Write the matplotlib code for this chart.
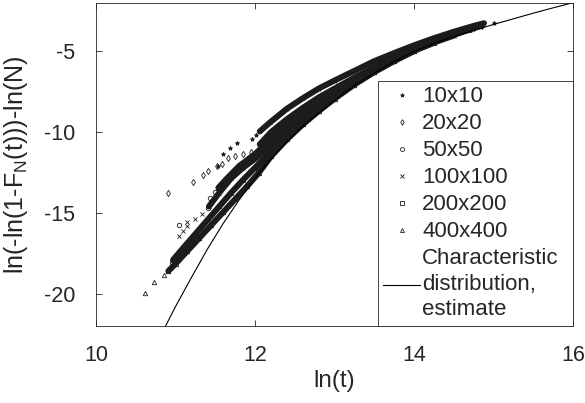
import matplotlib
matplotlib.use('Agg')
import matplotlib.pyplot as plt

plt.rcParams['font.family'] = ['Liberation Sans', 'DejaVu Sans']
plt.rcParams['mathtext.default'] = 'regular'
plt.rcParams['axes.unicode_minus'] = False

# characteristic distribution estimate
char_x = [10.87, 11.0, 11.2, 11.4, 11.6, 11.8, 12.0, 12.2, 12.4, 12.6, 12.8, 13.0,
          13.25, 13.5, 13.75, 14.0, 14.25, 14.5, 14.75, 15.0, 15.25, 15.5, 15.75, 16.0]
char_y = [-22.05, -20.8, -19.0, -17.25, -15.65, -14.2, -12.85, -11.65, -10.6, -9.65, -8.8, -8.02,
          -7.12, -6.33, -5.63, -5.0, -4.5, -4.08, -3.7, -3.33, -2.98, -2.63, -2.3, -1.98]

# 10x10: sparse points + dense part
s10_tail_x = [11.53, 11.60, 11.69, 11.77, 11.96, 12.01, 15.00]
s10_tail_y = [-12.10, -11.33, -10.98, -10.67, -10.43, -10.16, -3.26]
s10_x = [12.06, 12.2, 12.4, 12.6, 12.8, 13.0, 13.25, 13.5, 13.75, 14.0, 14.25, 14.5, 14.75, 14.88]
s10_y = [-9.95, -9.35, -8.55, -7.9, -7.3, -6.8, -6.2, -5.6, -5.1, -4.62, -4.18, -3.78, -3.42, -3.25]

# 20x20
s20_tail_x = [10.91, 11.22, 11.34, 11.41, 11.52, 11.58, 11.66, 11.75, 11.85, 11.95]
s20_tail_y = [-13.75, -13.10, -12.66, -12.42, -12.10, -11.97, -11.6, -11.45, -11.35, -11.2]
s20_x = [12.06, 12.2, 12.4, 12.6, 12.8, 13.0, 13.25, 13.5, 13.75, 14.0, 14.25, 14.5, 14.75, 14.85]
s20_y = [-10.75, -10.0, -9.2, -8.5, -7.85, -7.3, -6.62, -5.98, -5.38, -4.82, -4.33, -3.92, -3.55, -3.42]

# 50x50
s50_tail_x = [11.05, 11.41, 11.43, 11.50]
s50_tail_y = [-15.76, -14.67, -14.05, -13.70]
s50_x = [11.54, 11.65, 11.8, 12.0, 12.2, 12.4, 12.6, 12.8, 13.0, 13.25, 13.5, 13.75, 14.0, 14.25, 14.5, 14.7]
s50_y = [-13.44, -12.85, -12.1, -11.35, -10.45, -9.55, -8.8, -8.1, -7.5, -6.78, -6.12, -5.5, -4.9, -4.4, -3.98, -3.65]

# 100x100
s100_tail_x = [11.05, 11.09, 11.15, 11.15, 11.25, 11.33]
s100_tail_y = [-16.45, -16.10, -15.80, -15.55, -15.35, -15.08]
s100_x = [11.42, 11.55, 11.7, 11.85, 12.0, 12.2, 12.4, 12.6, 12.8, 13.0, 13.25, 13.5, 13.75, 14.0, 14.25, 14.5]
s100_y = [-14.6, -13.75, -12.85, -12.2, -11.65, -10.8, -9.9, -9.1, -8.38, -7.72, -6.95, -6.22, -5.55, -4.95, -4.45, -4.02]

# 200x200
s200_tail_x = [10.95, 11.02]
s200_tail_y = [-18.05, -17.7]
s200_x = [10.97, 11.1, 11.25, 11.4, 11.55, 11.7, 11.85, 12.0, 12.2, 12.4, 12.6, 12.8, 13.0, 13.25, 13.5, 13.75, 14.0, 14.25]
s200_y = [-17.9, -17.15, -16.3, -15.45, -14.6, -13.75, -12.95, -12.2, -11.2, -10.2, -9.35, -8.55, -7.82, -7.0, -6.25, -5.57, -4.96, -4.47]

# 400x400
s400_tail_x = [10.62, 10.73, 10.86]
s400_tail_y = [-19.93, -19.28, -18.83]
s400_x = [10.91, 11.0, 11.15, 11.3, 11.45, 11.6, 11.75, 11.9, 12.05, 12.2, 12.4, 12.6, 12.8, 13.0, 13.25, 13.5, 13.75, 14.0]
s400_y = [-18.6, -18.15, -17.35, -16.55, -15.75, -14.95, -14.15, -13.35, -12.5, -11.5, -10.45, -9.52, -8.7, -7.93, -7.05, -6.28, -5.6, -4.98]

labels = ['10x10', '20x20', '50x50', '100x100', '200x200', '400x400']
markers = ['*', 'd', 'o', 'x', 's', '^']
series = [(s10_tail_x, s10_tail_y, s10_x, s10_y),
          (s20_tail_x, s20_tail_y, s20_x, s20_y),
          (s50_tail_x, s50_tail_y, s50_x, s50_y),
          (s100_tail_x, s100_tail_y, s100_x, s100_y),
          (s200_tail_x, s200_tail_y, s200_x, s200_y),
          (s400_tail_x, s400_tail_y, s400_x, s400_y)]

ink = '#1c1c1c'
axcol = '#262626'

fig = plt.figure(figsize=(5.85, 4.03), dpi=100)
ax = fig.add_axes([96 / 585, 1 - 326 / 403, 477 / 585, 323 / 403])

handles = []
for (tx, ty, bx, by), lab, m in zip(series, labels, markers):
    # dense runs of overlapping markers look like a thick stroke
    ax.plot(bx, by, '-', color=ink, lw=4.3, solid_capstyle='round', solid_joinstyle='round')
    h, = ax.plot(tx + bx, ty + by, ls='none', marker=m, ms=3.2, mew=0.6,
                 mfc='none' if m != '*' else ink, mec=ink, color=ink, label=lab)
    handles.append(h)

hc, = ax.plot(char_x, char_y, '-', color='k', lw=0.8,
              label='Characteristic\ndistribution,\nestimate')
handles.append(hc)

ax.set_xlim(10, 16)
ax.set_ylim(-22, -2)
ax.set_xticks([10, 12, 14, 16])
ax.set_yticks([-20, -15, -10, -5])
ax.tick_params(direction='in', length=4, width=0.6, top=True, right=True,
               labelsize=15.5, colors=axcol)
ax.tick_params(axis='x', pad=14)
ax.tick_params(axis='y', pad=15)
for sp in ax.spines.values():
    sp.set_color(axcol)
    sp.set_linewidth(0.6)

ax.set_xlabel('ln(t)', fontsize=17.5, color=axcol)
ax.set_ylabel('ln(-ln(1-F$_N$(t)))-ln(N)', fontsize=18, color=axcol)
ax.xaxis.set_label_coords(0.5, -0.137)
ax.yaxis.set_label_coords(-0.138, 0.5)

leg = ax.legend(handles=handles, loc='lower left', bbox_to_anchor=(0.591, 0, 0.409, 1),
                mode='expand', borderaxespad=0, fontsize=16, frameon=True, fancybox=False,
                edgecolor=axcol, framealpha=1, borderpad=0.25, labelspacing=0.27,
                handlelength=1.65, handletextpad=0.1, numpoints=1, markerscale=0.9)
leg.get_frame().set_linewidth(0.6)
for t in leg.get_texts():
    t.set_color(axcol)
    t.set_linespacing(1.28)

fig.savefig('out.png', dpi=100)
